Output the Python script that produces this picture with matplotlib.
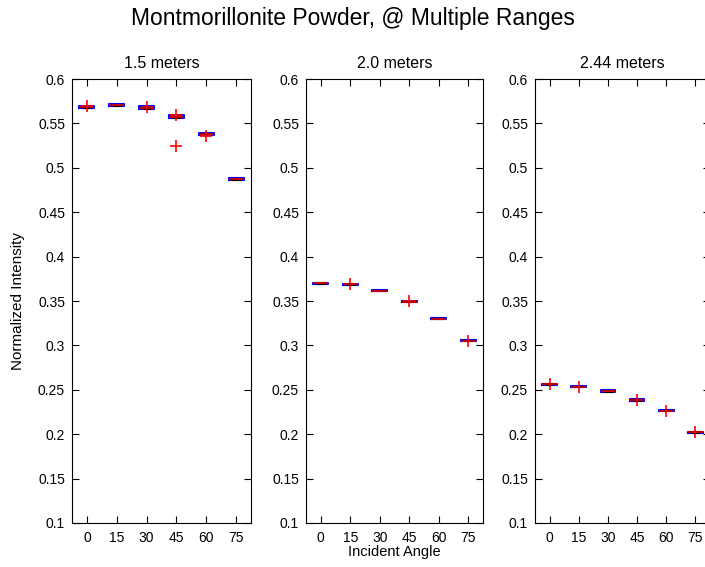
import matplotlib
matplotlib.use("Agg")
import matplotlib.pyplot as plt

plt.rcParams['font.family'] = ['Liberation Sans', 'DejaVu Sans']

angles = ["0", "15", "30", "45", "60", "75"]
ranges = ["1.5 meters", "2.0 meters", "2.44 meters"]

# medians of normalized intensity per angle
med_15 = [0.5688, 0.5707, 0.5677, 0.5575, 0.5377, 0.4874]
med_20 = [0.3699, 0.3688, 0.3616, 0.3492, 0.3301, 0.3053]
med_244 = [0.2562, 0.2535, 0.2490, 0.2385, 0.2265, 0.2021]

# half height of each box (interquartile range / 2)
half_15 = [0.0012, 0.0012, 0.0015, 0.0015, 0.0012, 0.0008]
half_20 = [0.0005, 0.0006, 0.0005, 0.0006, 0.0005, 0.0005]
half_244 = [0.0008, 0.0008, 0.0010, 0.0008, 0.0008, 0.0008]

# outliers
out_15 = [[0.5700], [], [0.5690], [0.5600, 0.5249], [0.5360], []]
out_20 = [[], [0.3690], [], [0.3500], [], [0.3055]]
out_244 = [[0.2565], [0.2535], [], [0.2385], [0.2265], [0.2025]]

medians = [med_15, med_20, med_244]
halves = [half_15, half_20, half_244]
outliers = [out_15, out_20, out_244]

yticks = [0.1, 0.15, 0.2, 0.25, 0.3, 0.35, 0.4, 0.45, 0.5, 0.55, 0.6]
ytick_labels = ["0.1", "0.15", "0.2", "0.25", "0.3", "0.35", "0.4", "0.45", "0.5", "0.55", "0.6"]

fig = plt.figure(figsize=(7.05, 5.67), dpi=100)

lefts = [72 / 705, 306 / 705, 535 / 705]
widths = [179 / 705, 177 / 705, 175 / 705]
bottom = 1 - 523 / 567
height = 444 / 567

for i in range(3):
    ax = fig.add_axes([lefts[i], bottom, widths[i], height])
    stats = []
    for j in range(6):
        m = medians[i][j]
        h = halves[i][j]
        stats.append({
            "med": m,
            "q1": m - h,
            "q3": m + h,
            "whislo": m - h,
            "whishi": m + h,
            "fliers": outliers[i][j],
        })
    ax.bxp(
        stats,
        positions=range(1, 7),
        widths=0.5,
        showfliers=True,
        boxprops=dict(color="blue", linewidth=1.5),
        medianprops=dict(color="#c00000", linewidth=1.5),
        whiskerprops=dict(color="black", linestyle="--", linewidth=0.8),
        capprops=dict(color="black", linewidth=0.8),
        flierprops=dict(marker="+", markeredgecolor="red", markersize=9,
                        markeredgewidth=1.2, linestyle="none"),
        capwidths=0.25,
    )
    ax.set_xlim(0.5, 6.5)
    ax.set_ylim(0.1, 0.6)
    ax.set_xticks(range(1, 7))
    ax.set_xticklabels(angles)
    ax.set_yticks(yticks)
    ax.set_yticklabels(ytick_labels)
    ax.tick_params(direction="in", top=True, right=True, length=5,
                   labelsize=10, width=0.8)
    ax.tick_params(axis="x", pad=6)
    ax.tick_params(axis="y", pad=5)
    for s in ax.spines.values():
        s.set_linewidth(0.8)
    ax.set_title(ranges[i], fontsize=11.5, pad=8)
    if i == 1:
        ax.set_xlabel("Incident Angle", fontsize=10.5, labelpad=0)

fig.text(18 / 705, 1 - 301 / 567, "Normalized Intensity", rotation=90,
         ha="center", va="center", fontsize=11)
fig.text(353 / 705, 1 - 19 / 567, "Montmorillonite Powder, @ Multiple Ranges",
         ha="center", va="center", fontsize=16.5)

fig.savefig("out.png", dpi=100)
plt.close(fig)
